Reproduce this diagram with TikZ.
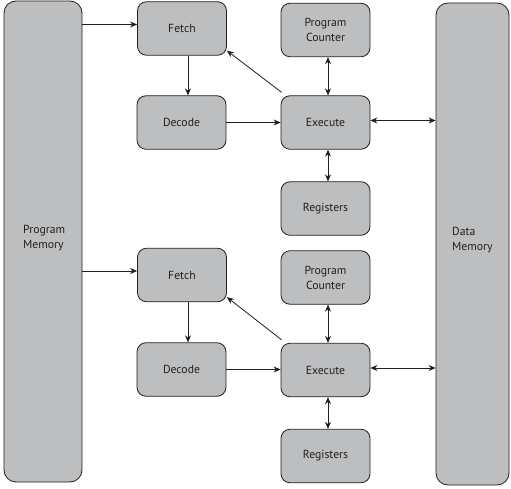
\documentclass[tikz,border=0pt]{standalone}
\usepackage{fontspec}
\setmainfont{PT Sans}
\usetikzlibrary{arrows.meta}
\definecolor{boxgray}{HTML}{BCBEC0}
\definecolor{edge}{HTML}{231F20}
\begin{document}
\begin{tikzpicture}[x=1pt,y=-1pt,
  txt/.style={font=\fontsize{11.7}{15}\selectfont, text=edge},
  box/.style={draw=edge, fill=boxgray, line width=0.8pt, rounded corners=9pt,
    minimum width=89pt, minimum height=53.5pt, align=center, inner sep=0pt, txt},
  mem/.style={draw=edge, fill=boxgray, line width=0.8pt, rounded corners=12pt, inner sep=0pt},
  lbl/.style={txt, align=left, anchor=west, inner sep=0pt},
  arr/.style={-{Stealth[length=7pt,width=6pt]}, line width=0.8pt, draw=edge},
  biarr/.style={{Stealth[length=7pt,width=6pt]}-{Stealth[length=7pt,width=6pt]}, line width=0.8pt, draw=edge}]
\useasboundingbox (0,0) rectangle (511,489);
% memories
\node[mem, minimum width=78pt, minimum height=481pt] (pm) at (43,241.5) {};
\node[lbl] (pmtext) at (23,238) {Program\\Memory};
\node[mem, minimum width=73pt, minimum height=482pt] (dm) at (472.5,244) {};
\node[lbl] (dmtext) at (452,240) {Data\\Memory};
% upper pipeline
\node[box] (fetch1) at (182,28.5) {Fetch};
\node[box] (decode1) at (181.5,122.5) {Decode};
\node[box] (pc1) at (325.5,30) {Program\\Counter};
\node[box] (exec1) at (325.5,122.5) {Execute};
\node[box] (reg1) at (325.5,208.5) {Registers};
% lower pipeline
\node[box] (fetch2) at (182,275) {Fetch};
\node[box] (decode2) at (181.5,369.5) {Decode};
\node[box] (pc2) at (325.5,277.5) {Program\\Counter};
\node[box] (exec2) at (325.5,370) {Execute};
\node[box] (reg2) at (325.5,456) {Registers};
% connectors
\foreach \i in {1,2}{
  \coordinate (fin\i) at ([yshift=4pt]fetch\i.west);
  \draw[arr] (fin\i -| pm.east) -- (fin\i);
  \draw[arr] ([xshift=6pt]fetch\i.south) -- ([xshift=6pt]fetch\i.south |- decode\i.north);
  \draw[arr] (decode\i.east) -- (decode\i.east -| exec\i.west);
  \draw[arr] ([shift={(1,-3)}]exec\i.north west) -- ([yshift=5pt]fetch\i.south east);
  \draw[biarr] ([xshift=2.5pt]pc\i.south) -- ([xshift=2.5pt]exec\i.north);
  \draw[biarr] ([xshift=2.5pt]exec\i.south) -- ([xshift=2.5pt]reg\i.north);
  \draw[biarr] ([yshift=2pt]exec\i.east) -- ([yshift=2pt]exec\i.east -| dm.west);
}
\end{tikzpicture}
\end{document}
